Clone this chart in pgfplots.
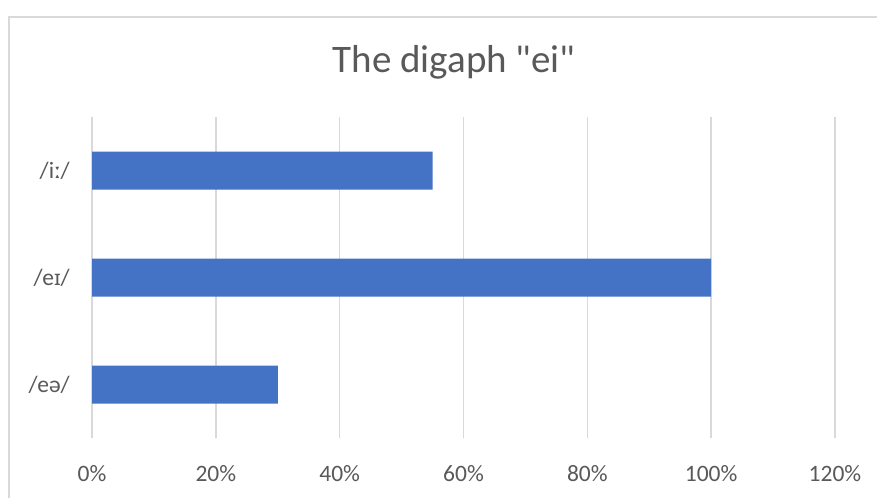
\documentclass[border=0pt]{standalone}
\usepackage{pgfplots}
\pgfplotsset{compat=1.18}
\usepackage{fontspec}
\setmainfont{Carlito}[Ligatures=TeXOff]
\newfontfamily\ipa{Noto Sans}
\definecolor{barblue}{HTML}{4472C4}
\definecolor{txtgray}{HTML}{595959}
\definecolor{gridgray}{HTML}{D9D9D9}
\begin{document}
\begin{tikzpicture}
\useasboundingbox (0,0) rectangle (877pt,498pt);
\fill[white] (0,0) rectangle (877pt,498pt);
\draw[gridgray, line width=1.5pt] (9pt,0) -- (9pt,481pt) -- (877pt,481pt);
\node[anchor=base, text=txtgray, font=\fontsize{39}{46}\selectfont, inner sep=0] at (454pt,425pt) {The digaph \char34 ei\char34};
\begin{axis}[
  at={(92pt,60pt)}, anchor=south west,
  scale only axis, width=743pt, height=321pt,
  xbar, bar width=38pt,
  xmin=0, xmax=120, ymin=0.5, ymax=3.5,
  xtick={0,20,40,60,80,100,120},
  xticklabels={0\%,20\%,40\%,60\%,80\%,100\%,120\%},
  ytick={1,2,3},
  yticklabels={/eə/,/e{\ipa\fontsize{21}{25}\selectfont ɪ}/,/iː/},
  major tick length=0pt,
  axis line style={draw=none},
  xmajorgrids, grid style={gridgray, line width=1.5pt},
  tick label style={text=txtgray, font=\fontsize{23.5}{28}\selectfont},
  xticklabel style={anchor=base, inner sep=0pt, yshift=-43pt},
  yticklabel style={anchor=east, inner sep=0pt, xshift=-22pt},
  clip=false,
]
\addplot[fill=barblue, draw=none] coordinates {(30,1) (100,2) (55,3)};
\end{axis}
\end{tikzpicture}
\end{document}
